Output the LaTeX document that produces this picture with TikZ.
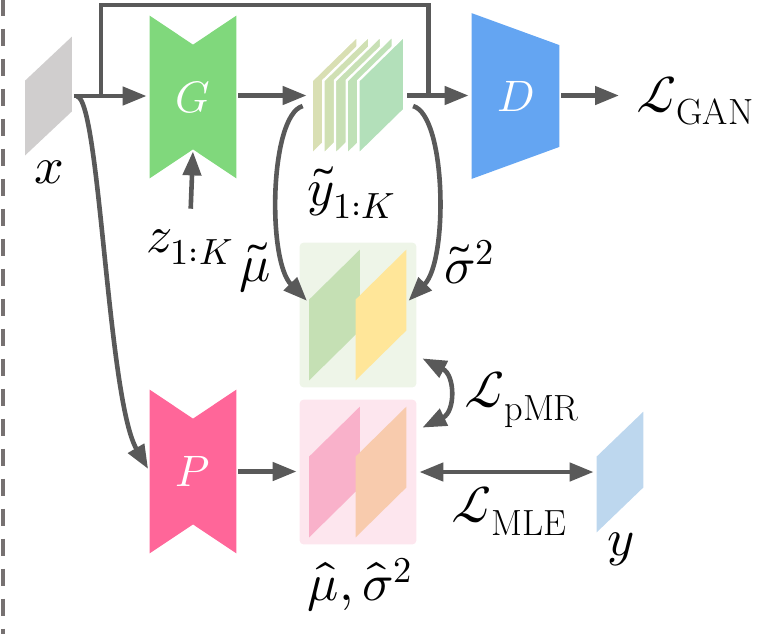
\documentclass[tikz,border=0pt]{standalone}
\usepackage{unicode-math}
\setmathfont{Latin Modern Math}
\usepackage{xcolor}
\usetikzlibrary{arrows.meta,positioning,calc,backgrounds}
\definecolor{AGray}{HTML}{595959}
\definecolor{DashGray}{HTML}{767171}
\definecolor{XGray}{HTML}{D0CECE}
\definecolor{GGreen}{HTML}{80D87C}
\definecolor{DBlue}{HTML}{64A5F2}
\definecolor{PPink}{HTML}{FF6699}
\definecolor{StA}{HTML}{D9DFB3}
\definecolor{StB}{HTML}{D0E0B3}
\definecolor{StC}{HTML}{C8E0B5}
\definecolor{StD}{HTML}{BFE1B7}
\definecolor{StE}{HTML}{B3E0BA}
\definecolor{BoxGreen}{HTML}{EEF5E8}
\definecolor{MuGreen}{HTML}{C5E0B4}
\definecolor{SigYellow}{HTML}{FFE699}
\definecolor{BoxPink}{HTML}{FDE6EE}
\definecolor{MuPink}{HTML}{F9B1CA}
\definecolor{SigOrange}{HTML}{F8CBAD}
\definecolor{YBlue}{HTML}{BDD7EE}
% slanted sheet inside a node: left edge low, right edge high
\newcommand{\para}[3]{\fill[#2] ($(#1.north west)+(0,#3)$) -- (#1.north east)
  -- ($(#1.south east)+(0,-#3)$) -- (#1.south west) -- cycle;}
% encoder/decoder block with notches top and bottom
\newcommand{\bowshape}[3]{\fill[#2] (#1.north west) -- ($(#1.north)+(0,#3)$)
  -- (#1.north east) -- (#1.south east) -- ($(#1.south)+(0,-#3)$)
  -- (#1.south west) -- cycle;}
\begin{document}
\begin{tikzpicture}[
  x=0.5pt,y=-0.5pt,
  font=\fontsize{26}{30}\selectfont,
  blk/.style={inner sep=0pt,text=white,font=\fontsize{22}{26}\selectfont},
  lbl/.style={inner sep=1pt},
  a/.style={-{Triangle[length=12pt,width=9pt]},line width=2.3pt,color=AGray,
    shorten >=1.5pt,shorten <=1pt},
  aa/.style={{Triangle[length=12pt,width=9pt]}-{Triangle[length=12pt,width=9pt]},
    line width=2.3pt,color=AGray,shorten >=1.5pt,shorten <=1.5pt},
  l/.style={line width=2.3pt,color=AGray}
]
  \useasboundingbox (0,0) rectangle (760,634);
  \draw[DashGray,line width=2.3pt,dash pattern=on 8.5pt off 6.5pt,dash phase=0.7pt]
    (3,0) -- (3,634);

  % blocks
  \node[blk,minimum width=23pt,minimum height=59pt] (x) at (48.5,96) {};
  \node[blk,minimum width=43pt,minimum height=81pt] (G) at (193,97) {$G$};
  \node[blk,minimum width=46.4pt,minimum height=59.5pt] (stk) at (358.4,95.5) {};
  \node[blk,minimum width=43.5pt,minimum height=82.5pt] (D) at (515.5,96) {$D$};
  \node[lbl,anchor=west] (gan) at (634,101) {$\mathcal{L}_{\mathrm{GAN}}$};
  \node[blk,minimum width=58pt,minimum height=72pt] (gbox) at (358,315) {};
  \node[blk,minimum width=25pt,minimum height=65pt] (mt) at (334.5,315) {};
  \node[blk,minimum width=25pt,minimum height=65pt] (st) at (381,315) {};
  \node[blk,minimum width=43pt,minimum height=81.5pt] (P) at (193,471.5) {$P$};
  \node[blk,minimum width=58pt,minimum height=72pt] (pbox) at (358,472) {};
  \node[blk,minimum width=25pt,minimum height=65pt] (pm) at (334.5,472) {};
  \node[blk,minimum width=25pt,minimum height=65pt] (ps) at (381,472) {};
  \node[blk,minimum width=23pt,minimum height=60pt] (yn) at (620,472) {};

  % labels
  \node[lbl] (xl) at (49,172) {$x$};
  \node[lbl] (zl) at (190,247) {$z_{1:K}$};
  \node[lbl] (ytl) at (352,193) {$\tilde{y}_{1:K}$};
  \node[lbl] (mul) at (255,268) {$\tilde{\mu}$};
  \node[lbl] (sigl) at (470,262) {$\tilde{\sigma}^2$};
  \node[lbl,anchor=west] (pmr) at (462,400) {$\mathcal{L}_{\mathrm{pMR}}$};
  \node[lbl] (mle) at (509,511) {$\mathcal{L}_{\mathrm{MLE}}$};
  \node[lbl] (yl) at (621,549) {$y$};
  \node[lbl] (hatl) at (360,585) {$\hat{\mu},\hat{\sigma}^2$};

  \begin{scope}[on background layer]
    \para{x}{XGray}{44}
    \bowshape{G}{GGreen}{29}
    \foreach \i/\c in {0/StA,1/StB,2/StC,3/StD,4/StE}
      \filldraw[fill=\c,draw=white,line width=1.2pt]
        ($(stk.north west)+({11.7*\i},45)$) -- ++(46,-45) -- ++(0,74) -- ++(-46,45) -- cycle;
    \fill[DBlue] (D.north west) -- ($(D.north east)+(0,32)$)
      -- ($(D.south east)+(0,-32)$) -- (D.south west) -- cycle;
    \fill[BoxGreen,rounded corners=2pt] (gbox.north west) rectangle (gbox.south east);
    \para{mt}{MuGreen}{50}
    \para{st}{SigYellow}{50}
    \bowshape{P}{PPink}{29}
    \fill[BoxPink,rounded corners=2pt] (pbox.north west) rectangle (pbox.south east);
    \para{pm}{MuPink}{50}
    \para{ps}{SigOrange}{50}
    \para{yn}{YBlue}{45}
  \end{scope}

  % connectors
  \coordinate (bx) at ($(x.east)+(29,0)$);
  \coordinate (bd) at ($(stk.east)+(23,0)$);
  \draw[a] (x.east) -- (x.east -| G.west);
  \draw[l] (bx) -- ++(0,-91) -| (bd);
  \draw[a,shorten >=2.5pt] (G.east |- stk.west) -- (stk.west);
  \draw[a] (stk.east) -- (stk.east -| D.west);
  \draw[a,shorten >=7.5pt] (stk.east -| D.east) -- (stk.east -| gan.west);
  \draw[a,shorten <=9pt,shorten >=1pt] (zl.north) -- ($(G.south)+(0,-29)$);
  \draw[a] ([xshift=1.5pt]x.east) .. controls +(25,3) and +(-42,-72) .. (P.west);
  \draw[a] ($(stk.west)+(-7,10)$) .. controls +(-35,10) and +(-42,-43) .. ([yshift=6pt]mt.west);
  \draw[a] ($(stk.east)+(6,10)$) .. controls +(35,10) and +(42,-43) .. ([yshift=6pt]st.east);
  \draw[a] (P.east) -- (P.east -| pbox.west);
  \draw[aa,shorten >=0pt,shorten <=0pt] ($(gbox.south east)+(6,-29)$)
    .. controls +(33,17) and +(33,-16) .. ($(pbox.north east)+(6,28)$);
  \draw[aa] (pbox.east) -- (yn.west);
\end{tikzpicture}
\end{document}
